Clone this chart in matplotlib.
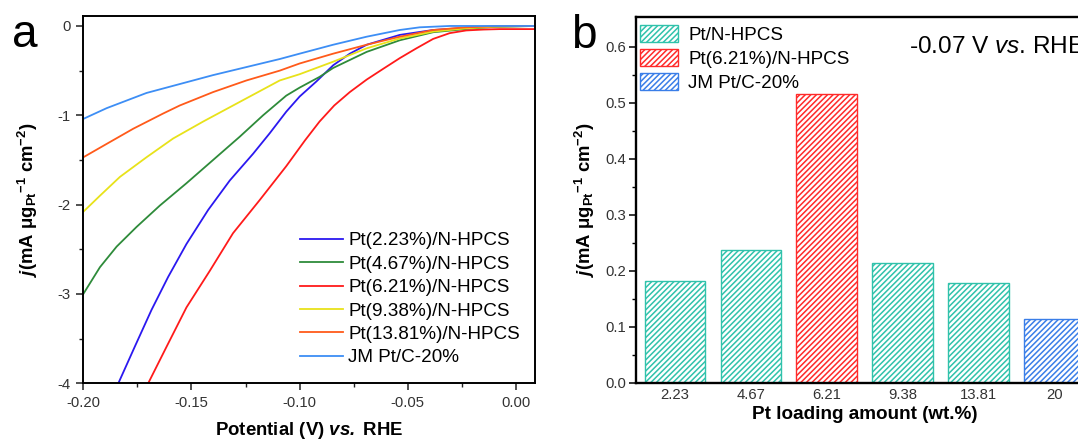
import matplotlib
matplotlib.use("Agg")
import matplotlib.pyplot as plt
import numpy as np

plt.rcParams['font.family'] = ['Liberation Sans', 'DejaVu Sans']
plt.rcParams['mathtext.fontset'] = 'custom'
plt.rcParams['mathtext.rm'] = 'Liberation Sans'
plt.rcParams['mathtext.it'] = 'Liberation Sans:italic'
plt.rcParams['mathtext.bf'] = 'Liberation Sans:bold'
plt.rcParams['mathtext.bfit'] = 'Liberation Sans:italic:bold'
plt.rcParams['hatch.linewidth'] = 1.1

# ---- panel a: LSV curves ----
names = ['Pt(2.23%)/N-HPCS', 'Pt(4.67%)/N-HPCS', 'Pt(6.21%)/N-HPCS',
         'Pt(9.38%)/N-HPCS', 'Pt(13.81%)/N-HPCS', 'JM Pt/C-20%']
colors = ['#2b18f0', '#2e8b3a', '#ff1a1a', '#e8e21a', '#ff5a1a', '#3d8ef5']

pot_223 = [-0.1838, -0.1762, -0.1685, -0.1608, -0.1523, -0.1423, -0.1323, -0.1215, -0.1138, -0.1062,
           -0.100, -0.0922, -0.0845, -0.0768, -0.069, -0.0537, -0.0383, -0.023, -0.010, 0.0088]
cur_223 = [-4.0, -3.59, -3.18, -2.81, -2.44, -2.06, -1.73, -1.43, -1.20, -0.96,
           -0.79, -0.62, -0.44, -0.31, -0.21, -0.10, -0.045, -0.02, -0.005, 0.0]

pot_467 = [-0.2, -0.1923, -0.1846, -0.1754, -0.1646, -0.1523, -0.140, -0.1277, -0.1169, -0.1062,
           -0.100, -0.0908, -0.0845, -0.069, -0.0537, -0.0383, -0.023, -0.010, 0.0088]
cur_467 = [-3.0, -2.70, -2.47, -2.25, -2.01, -1.76, -1.50, -1.24, -1.0, -0.78,
           -0.69, -0.57, -0.47, -0.29, -0.16, -0.07, -0.034, -0.01, 0.0]

pot_621 = [-0.170, -0.1615, -0.1523, -0.1415, -0.1308, -0.1185, -0.1062, -0.0975, -0.0908, -0.084,
           -0.0768, -0.069, -0.0614, -0.0537, -0.046, -0.0383, -0.0306, -0.023, -0.015, -0.0075, 0.0088]
cur_621 = [-4.0, -3.59, -3.15, -2.74, -2.32, -1.95, -1.57, -1.28, -1.07, -0.89,
           -0.74, -0.60, -0.48, -0.36, -0.25, -0.145, -0.08, -0.05, -0.04, -0.035, -0.035]

pot_938 = [-0.2, -0.1923, -0.1831, -0.1708, -0.1585, -0.1446, -0.1323, -0.1092, -0.100, -0.0845,
           -0.069, -0.0537, -0.0383, -0.023, -0.010, 0.0088]
cur_938 = [-2.08, -1.90, -1.69, -1.47, -1.26, -1.07, -0.91, -0.61, -0.54, -0.40,
           -0.25, -0.14, -0.063, -0.026, -0.008, 0.0]

pot_1381 = [-0.2, -0.1892, -0.1769, -0.1631, -0.1554, -0.140, -0.1246, -0.1092, -0.100, -0.0845,
            -0.069, -0.0537, -0.0383, -0.023, -0.010, 0.0088]
cur_1381 = [-1.47, -1.32, -1.15, -0.98, -0.89, -0.74, -0.61, -0.50, -0.42, -0.31,
            -0.21, -0.12, -0.045, -0.015, -0.004, 0.0]

pot_jm = [-0.2, -0.1892, -0.1708, -0.1554, -0.140, -0.1246, -0.1092, -0.100, -0.0845, -0.069,
          -0.0537, -0.0445, -0.0306, 0.0088]
cur_jm = [-1.04, -0.92, -0.75, -0.65, -0.55, -0.46, -0.37, -0.31, -0.21, -0.12,
          -0.045, -0.015, 0.0, 0.0]

pots = [pot_223, pot_467, pot_621, pot_938, pot_1381, pot_jm]
curs = [cur_223, cur_467, cur_621, cur_938, cur_1381, cur_jm]

# ---- panel b: bars ----
loading = ['2.23', '4.67', '6.21', '9.38', '13.81', '20']
activity = [0.182, 0.237, 0.516, 0.214, 0.1775, 0.113]
groups = ['Pt/N-HPCS', 'Pt/N-HPCS', 'Pt(6.21%)/N-HPCS', 'Pt/N-HPCS', 'Pt/N-HPCS', 'JM Pt/C-20%']
group_colors = {'Pt/N-HPCS': '#30c2ab', 'Pt(6.21%)/N-HPCS': '#ff2a2a', 'JM Pt/C-20%': '#3a7ee8'}

W, H = 1078, 442
fig = plt.figure(figsize=(W / 100, H / 100), dpi=100)

ylab = r"$\mathbfit{j}$(mA μg$_{\mathbf{Pt}}$$^{\mathbf{-1}}$ cm$^{\mathbf{-2}}$)"

# panel a
ax = fig.add_axes([83.3 / W, 1 - 383.3 / H, (535 - 83.3) / W, (383.3 - 15.7) / H])
for p, c, col, n in zip(pots, curs, colors, names):
    ax.plot(p, c, color=col, lw=1.3, label=n)
ax.set_xlim(-0.2, 0.0088)
ax.set_ylim(-4, 0.115)
ax.set_xticks([-0.2, -0.15, -0.1, -0.05, 0.0])
ax.set_xticklabels(['-0.20', '-0.15', '-0.10', '-0.05', '0.00'])
ax.set_yticks([0, -1, -2, -3, -4])
ax.set_yticklabels(['0', '-1', '-2', '-3', '-4'])
ax.set_xticks(np.arange(-0.175, 0.0, 0.05), minor=True)
ax.set_yticks([-0.5, -1.5, -2.5, -3.5], minor=True)
ax.tick_params(which='major', length=5, width=1.1, labelsize=10.7, colors='#222222',
               labelcolor='#333333', pad=4)
ax.tick_params(which='minor', length=3, width=1.0, colors='#222222')
for s in ax.spines.values():
    s.set_linewidth(1.4)
ax.set_xlabel(r"Potential (V) $\mathbfit{vs.}$ RHE", fontsize=13.4, fontweight='bold', labelpad=7)
ax.set_ylabel(ylab, fontsize=13.3, fontweight='bold', labelpad=13)
ax.legend(loc='upper left', bbox_to_anchor=(300 / W, 1 - 232 / H), bbox_transform=fig.transFigure,
          frameon=False, fontsize=13.6, handlelength=2.3, handletextpad=0.26,
          labelspacing=0.33, borderaxespad=0, borderpad=0)
fig.text(12 / W, 1 - 47 / H, 'a', fontsize=33)

# panel b
bx = fig.add_axes([636.3 / W, 1 - 382.7 / H, (1093 - 636.3) / W, (382.7 - 16.7) / H])
x = np.arange(len(loading))
seen = set()
for xi, v, g in zip(x, activity, groups):
    lab = g if g not in seen else None
    seen.add(g)
    bx.bar(xi, v, width=0.8, facecolor='white', edgecolor=group_colors[g], hatch='//////',
           linewidth=1.0, label=lab)
bx.set_xlim(-0.51, 5.51)
bx.set_ylim(0, 0.6536)
bx.set_xticks(x)
bx.set_xticklabels(loading)
bx.set_yticks(np.arange(0, 0.61, 0.1))
bx.set_yticklabels(['0.0', '0.1', '0.2', '0.3', '0.4', '0.5', '0.6'])
bx.set_yticks(np.arange(0.05, 0.65, 0.1), minor=True)
bx.tick_params(axis='x', length=0, labelsize=10.7, labelcolor='#333333', pad=4)
bx.tick_params(axis='y', which='major', length=5, width=1.1, labelsize=10.7,
               labelcolor='#333333', pad=2.5)
bx.tick_params(axis='y', which='minor', length=3, width=1.0)
for s in bx.spines.values():
    s.set_linewidth(1.7)
bx.set_xlabel('Pt loading amount (wt.%)', fontsize=13.6, fontweight='bold', labelpad=3)
bx.set_ylabel(ylab, fontsize=13.3, fontweight='bold', labelpad=6)
bx.legend(loc='upper left', bbox_to_anchor=(640 / W, 1 - 25 / H), bbox_transform=fig.transFigure,
          frameon=False, fontsize=13.6, handlelength=2.0, handleheight=1.03,
          handletextpad=0.56, labelspacing=0.25, borderaxespad=0, borderpad=0)
fig.text(909 / W, 1 - 53.3 / H, r"-0.07 V $\mathit{vs}$. RHE", fontsize=17.6,
         va='baseline', ha='left')
fig.text(571 / W, 1 - 48.3 / H, 'b', fontsize=33, va='baseline')

fig.savefig('out.png', dpi=100)
